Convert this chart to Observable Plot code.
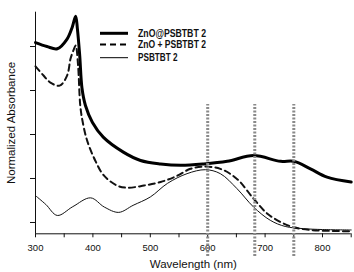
<!DOCTYPE html>
<html>
<head>
<meta charset="utf-8">
<script src="https://cdn.jsdelivr.net/npm/d3@7"></script>
<script src="https://cdn.jsdelivr.net/npm/@observablehq/plot@0.6"></script>
<style>
  html, body { margin: 0; padding: 0; background: #fff; }
  #wrap { position: relative; width: 354px; height: 272px; }
  #legend { position: absolute; left: 0; top: 0; }
</style>
</head>
<body>
<div id="wrap"><div id="chart"></div><svg id="legend" width="354" height="80"></svg></div>
<script>
// Series names
const seriesNames = ["ZnO@PSBTBT 2", "ZnO + PSBTBT 2", "PSBTBT 2"];

// ZnO@PSBTBT 2 (thick solid)
const coreWl  = [300, 320, 338, 355, 364, 370, 373, 377, 381, 387, 399, 418, 453, 483, 518, 553, 593, 634, 680, 727, 750, 779, 808, 850];
const coreAbs = [5.09, 5.00, 4.95, 5.17, 5.44, 5.69, 5.40, 4.80, 4.05, 3.66, 3.28, 2.94, 2.60, 2.41, 2.33, 2.30, 2.33, 2.39, 2.52, 2.39, 2.39, 2.22, 2.03, 1.92];

// ZnO + PSBTBT 2 (dashed)
const mixWl  = [300, 314, 326, 342, 355, 361, 366, 370, 374, 378, 382, 390, 404, 419, 442, 460, 489, 518, 545, 570, 593, 622, 651, 680, 704, 727, 750, 779, 850];
const mixAbs = [4.55, 4.34, 4.18, 4.11, 4.34, 4.72, 4.91, 5.02, 4.60, 3.66, 3.30, 2.86, 2.41, 2.07, 1.84, 1.79, 1.84, 1.92, 2.05, 2.22, 2.27, 2.22, 1.99, 1.54, 1.20, 1.01, 0.89, 0.83, 0.80];

// PSBTBT 2 (thin solid)
const polyWl  = [300, 318, 338, 365, 396, 420, 445, 470, 500, 530, 564, 596, 622, 651, 680, 709, 735, 767, 800, 850];
const polyAbs = [1.61, 1.41, 1.16, 1.36, 1.56, 1.35, 1.23, 1.39, 1.58, 1.89, 2.11, 2.20, 2.11, 1.77, 1.35, 1.05, 0.91, 0.86, 0.84, 0.83];

// Marker wavelengths (dotted verticals)
const markerWl = [600, 682, 750];

// Axis ticks
const xTicks = [300, 400, 500, 600, 700, 800];
const xMinorTicks = [350, 450, 550, 650, 750, 850];
const yTicks = [1, 2, 3, 4, 5];

const xDomain = [300, 850];
const yDomain = [0.743, 5.78];
const markerSpan = [0.227, 3.68];

const toRows = (wl, ab) => wl.map((w, i) => ({wl: w, abs: ab[i]}));
const core = toRows(coreWl, coreAbs);
const mix = toRows(mixWl, mixAbs);
const poly = toRows(polyWl, polyAbs);
const markers = markerWl.map(w => ({wl: w, y1: markerSpan[0], y2: markerSpan[1]}));

const chart = Plot.plot({
  width: 354,
  height: 272,
  marginLeft: 35,
  marginRight: 3.3,
  marginTop: 11.7,
  marginBottom: 38.7,
  style: {fontFamily: "'Liberation Sans', Arial, sans-serif", fontSize: "9.5px", color: "#111", background: "#fff"},
  x: {domain: xDomain},
  y: {domain: yDomain},
  marks: [
    Plot.ruleY([yDomain[0]], {stroke: "#111", strokeWidth: 1}),
    Plot.ruleX([xDomain[0]], {stroke: "#111", strokeWidth: 1}),
    Plot.axisX({ticks: xTicks, tickSize: 4, tickPadding: 6.5, tickFormat: d => String(d),
      label: "Wavelength (nm)", labelAnchor: "center", labelArrow: "none", labelOffset: 34, fontSize: 9.5}),
    Plot.axisX({ticks: xMinorTicks, tickSize: 4, tickFormat: () => "", label: null}),
    Plot.axisY({ticks: yTicks, tickSize: 5, tickFormat: () => "",
      label: "Normalized Absorbance", labelAnchor: "center", labelArrow: "none", labelOffset: 29}),
    Plot.line(poly, {x: "wl", y: "abs", stroke: "#111", strokeWidth: 1, curve: "catmull-rom"}),
    Plot.line(mix, {x: "wl", y: "abs", stroke: "#111", strokeWidth: 2, strokeDasharray: "6,4", curve: "catmull-rom"}),
    Plot.line(core, {x: "wl", y: "abs", stroke: "#000", strokeWidth: 3, curve: "catmull-rom"}),
    Plot.ruleX(markers, {x: "wl", y1: "y1", y2: "y2", stroke: "#8a8a8a", strokeWidth: 3, strokeDasharray: "2,1.5"})
  ]
});
document.getElementById("chart").appendChild(chart);

// axis title font sizes
chart.querySelectorAll("g[aria-label='x-axis label'] text, g[aria-label='y-axis label'] text").forEach(t => {
  t.setAttribute("font-size", "11.5px");
});

// legend
const legend = d3.select("#legend");
const legendStyles = [
  {w: 3, dash: null, tl: 68},
  {w: 2, dash: "6,4", tl: 68},
  {w: 1, dash: null, tl: 39.5}
];
const rowY = [33.3, 44.5, 57.7];
seriesNames.forEach((name, i) => {
  const s = legendStyles[i];
  legend.append("line").attr("x1", 100).attr("x2", 128).attr("y1", rowY[i]).attr("y2", rowY[i])
    .attr("stroke", "#000").attr("stroke-width", s.w).attr("stroke-dasharray", s.dash);
  legend.append("text").attr("x", 138).attr("y", rowY[i]).attr("dy", "0.35em")
    .attr("font-family", "'Liberation Sans', Arial, sans-serif").attr("font-size", 10).attr("font-weight", "bold")
    .attr("fill", "#111").attr("textLength", s.tl).attr("lengthAdjust", "spacingAndGlyphs").text(name);
});
</script>
</body>
</html>
